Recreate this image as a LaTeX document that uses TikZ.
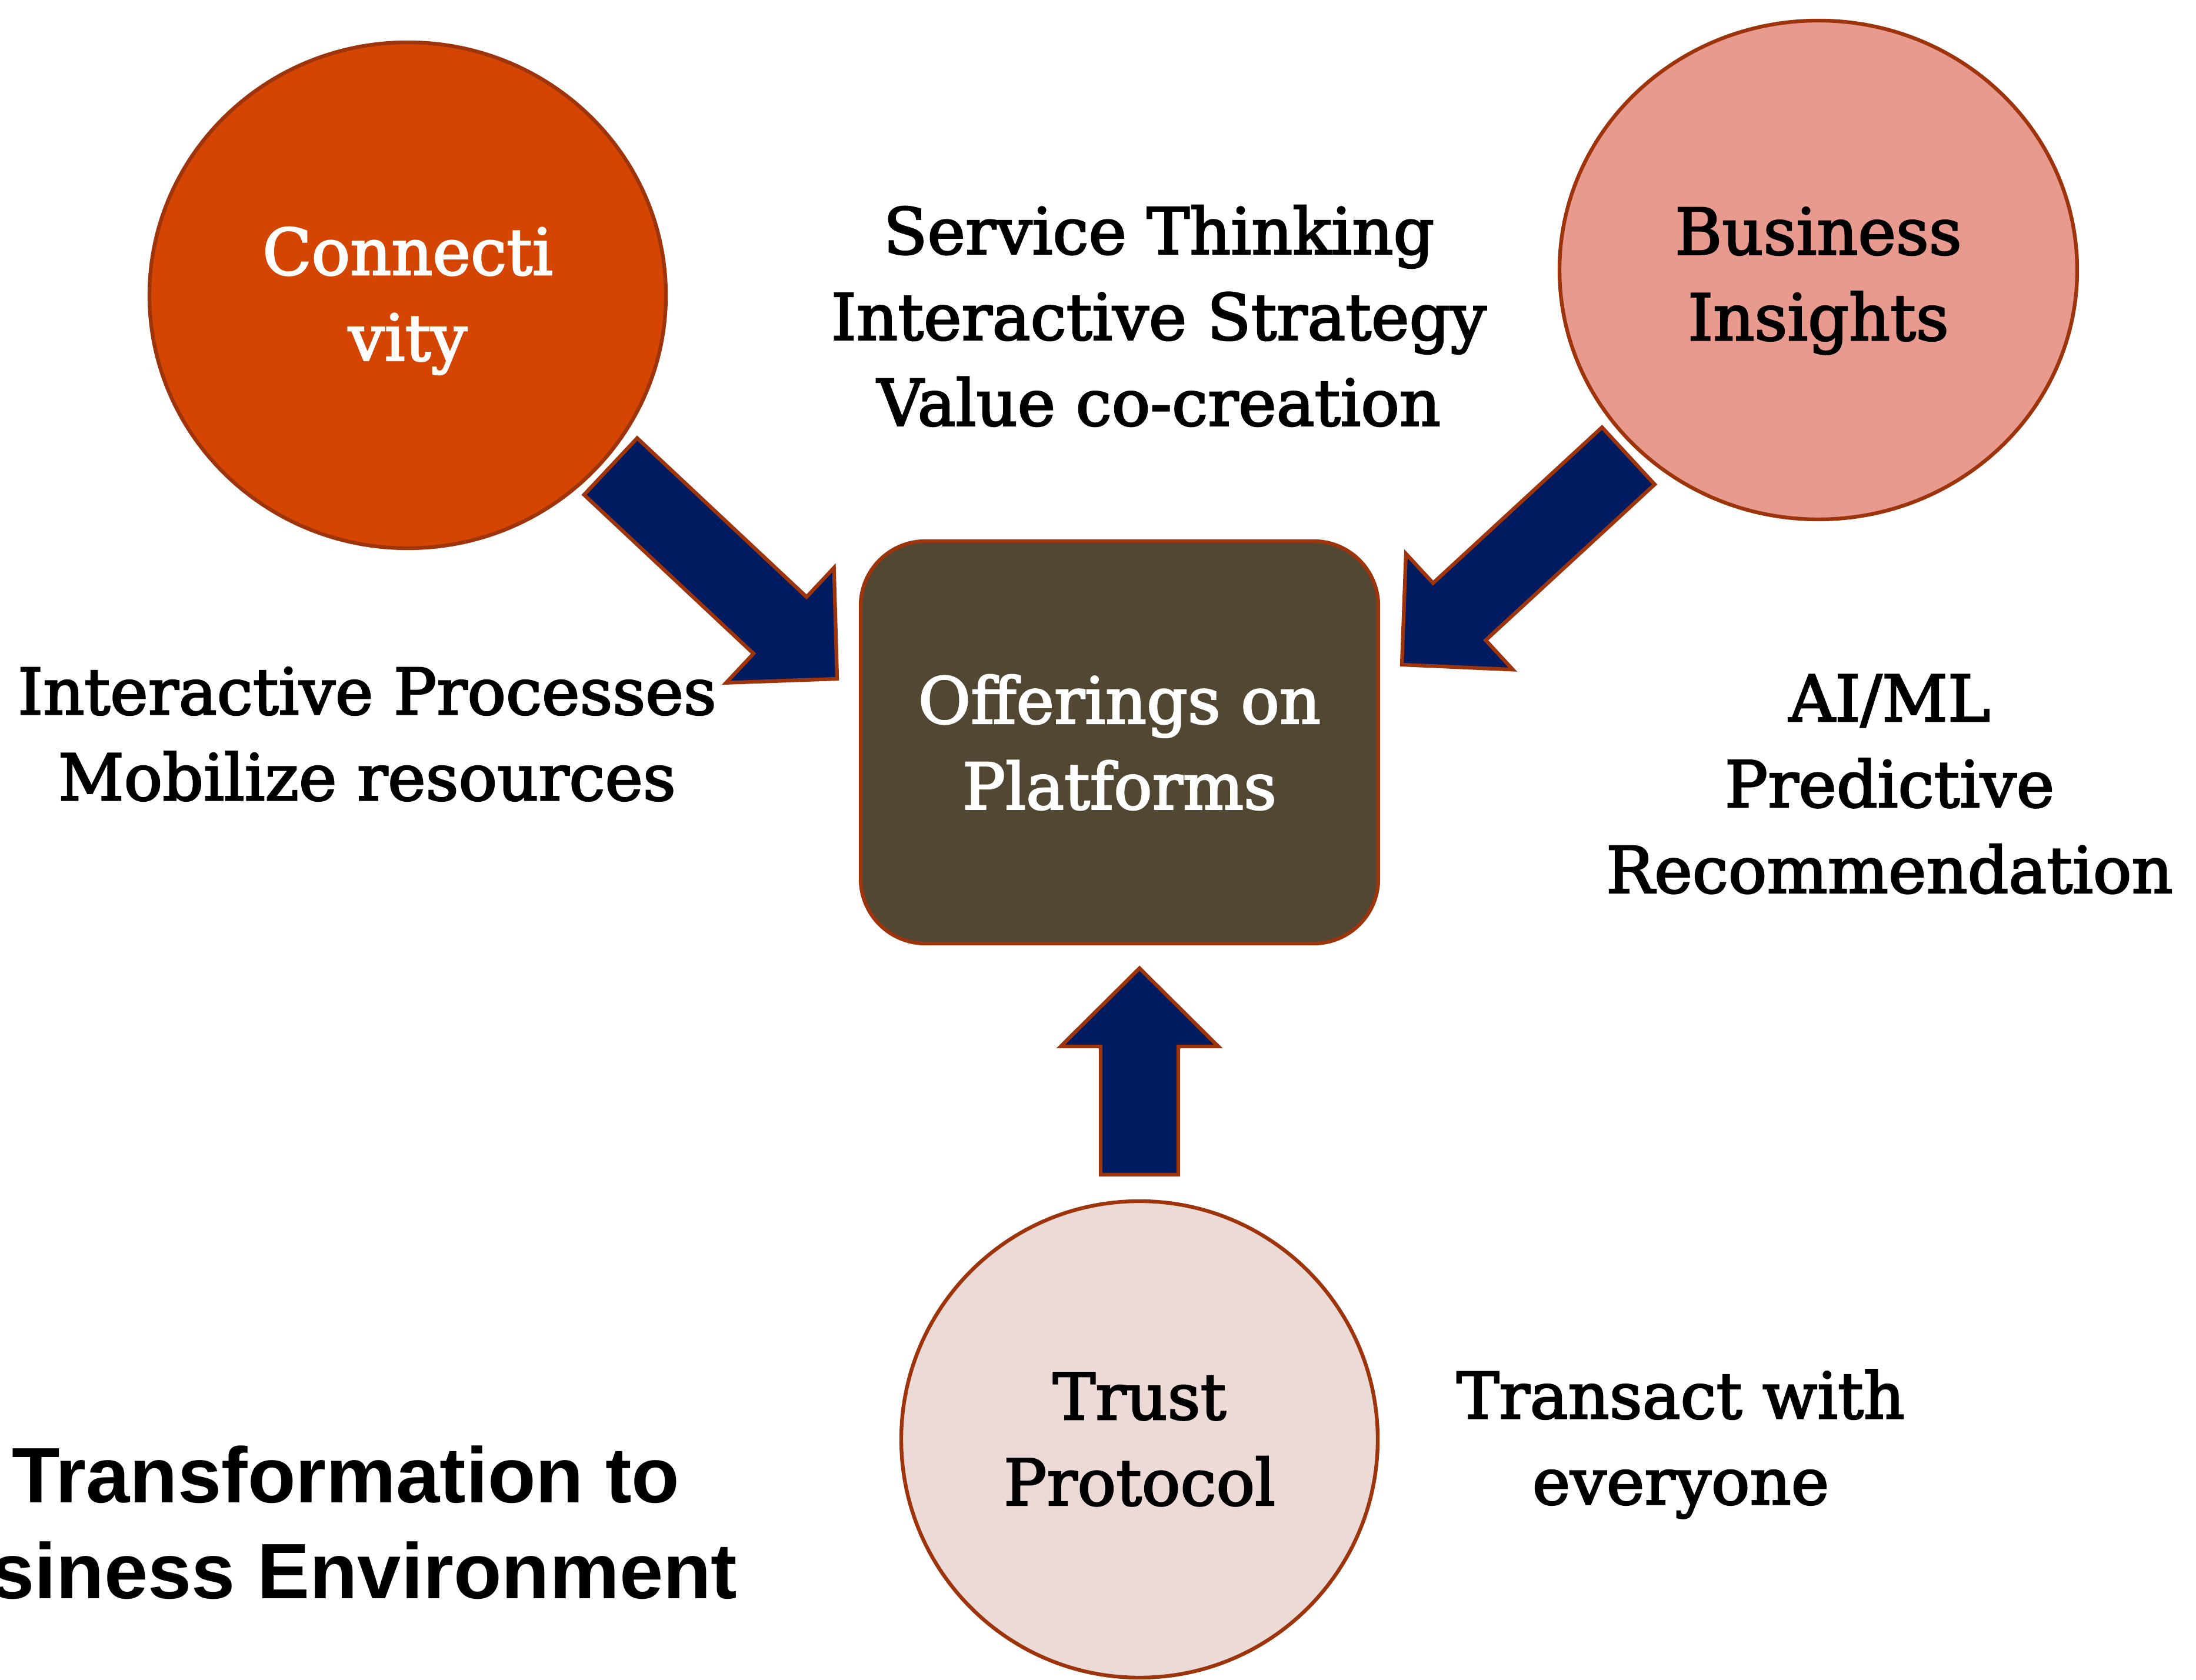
\documentclass[tikz,border=0pt]{standalone}
\usepackage{fontspec}
\setmainfont{DejaVu Serif}[FakeBold=2.5]
\newfontfamily\titlefont{Liberation Sans}
\usetikzlibrary{shapes.geometric,calc}
\definecolor{connorange}{RGB}{211,69,0}
\definecolor{insightpink}{RGB}{232,154,142}
\definecolor{trustpink}{RGB}{236,218,214}
\definecolor{platbrown}{RGB}{81,71,50}
\definecolor{edgered}{RGB}{158,52,12}
\definecolor{arrownavy}{RGB}{1,27,96}
\newcommand{\blockarrow}[2]{%
        \coordinate (hb) at ($(#2)!1.33cm!(#1)$);
        \draw[navyarrow] ($(#1)!0.66cm!90:(#2)$) -- ($(hb)!0.66cm!90:(#2)$)
            -- ($(hb)!1.34cm!90:(#2)$) -- (#2) -- ($(hb)!1.34cm!-90:(#2)$)
            -- ($(hb)!0.66cm!-90:(#2)$) -- ($(#1)!0.66cm!-90:(#2)$) -- cycle;}
\begin{document}
\begin{tikzpicture}[
        txt/.style={font=\fontsize{31}{41.5}\selectfont, align=center},
        hub/.style={ellipse, draw=edgered, line width=1.8pt, txt},
        navyarrow/.style={fill=arrownavy, draw=edgered, line width=1.8pt},
        title/.style={font=\titlefont\bfseries\fontsize{38}{45.5}\selectfont, anchor=base}]
        \useasboundingbox (0,0) rectangle (37.33,28.56);
        \clip (0,0) rectangle (37.33,28.56);

        \node[hub, fill=connorange, text=white, minimum width=8.78cm, minimum height=8.6cm] (conn) at (6.93,23.54) {\rule{0pt}{1cm}Connecti\\vity};
        \node[hub, fill=insightpink, minimum width=8.8cm, minimum height=8.48cm] (insight) at (30.91,23.97) {\rule{0pt}{1.17cm}Business\\Insights};
        \node[hub, fill=trustpink, minimum width=8.1cm, minimum height=8.1cm] (trust) at (19.37,4.09) {Trust\\Protocol};
        \node[txt, rectangle, rounded corners=1.1cm, fill=platbrown, draw=edgered, line width=1.8pt, text=white, minimum width=8.8cm, minimum height=6.84cm] (plat) at (19.03,15.94) {Offerings on\\Platforms};

        \coordinate (conn-tail) at (10.38,20.63);
        \coordinate (conn-tip) at (14.23,17.02);
        \coordinate (insight-tail) at (27.68,20.81);
        \coordinate (insight-tip) at (23.83,17.26);
        \coordinate (trust-tail) at (19.37,8.59);
        \coordinate (trust-tip) at (19.37,12.10);
        \blockarrow{conn-tail}{conn-tip}
        \blockarrow{insight-tail}{insight-tip}
        \blockarrow{trust-tail}{trust-tip}

        \node[txt] (service) at (19.70,23.19) {Service Thinking\\Interactive Strategy\\Value co-creation};
        \node[txt] (process) at (6.24,16.08) {Interactive Processes\\Mobilize resources};
        \node[txt] (aiml) at (32.12,15.23) {AI/ML\\Predictive\\Recommendation};
        \node[txt] (transact) at (28.57,4.01) {Transact with\\everyone};
        \node[title] (title-top) at (5.88,3.01) {Transformation to};
        \node[title] (title-bottom) at (5.30,1.38) {Business Environment};
\end{tikzpicture}
\end{document}
